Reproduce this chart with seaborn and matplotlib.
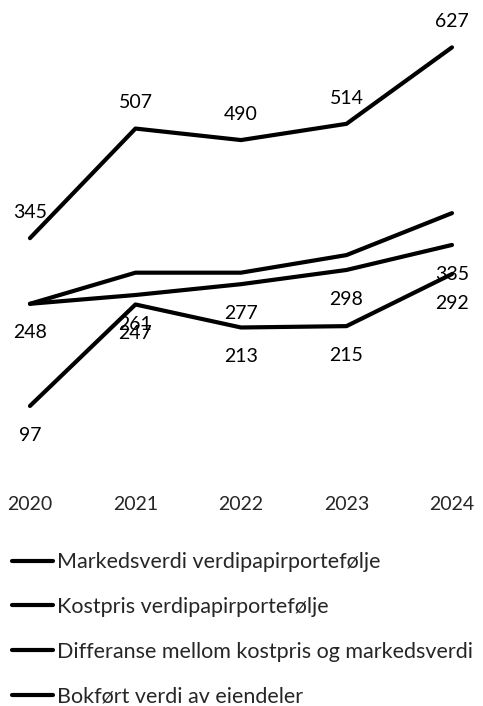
import matplotlib
matplotlib.use("Agg")
import matplotlib.pyplot as plt
import pandas as pd
import seaborn as sns

sns.set_theme(style="white")
plt.rcParams["font.family"] = ["Lato", "DejaVu Sans"]

years = [2020, 2021, 2022, 2023, 2024]
series_names = [
    "Markedsverdi verdipapirportefølje",
    "Kostpris verdipapirportefølje",
    "Differanse mellom kostpris og markedsverdi",
    "Bokført verdi av eiendeler",
]
markedsverdi = [345, 507, 490, 514, 627]
kostpris = [248, 261, 277, 298, 335]
differanse = [97, 247, 213, 215, 292]
bokfort = [248, 294, 294, 320, 382]

values = [markedsverdi, kostpris, differanse, bokfort]
# which series get data labels, and how far above (+) or below (-) in points
label_offset = {series_names[0]: 18.5, series_names[1]: -21, series_names[2]: -21}

df = pd.DataFrame({
    "year": years * len(series_names),
    "value": [v for vals in values for v in vals],
    "series": [name for name in series_names for _ in years],
})

fig = plt.figure(figsize=(4.83, 7.06), dpi=100)
ax = fig.add_axes([0, 0.332, 1, 0.668])

sns.lineplot(data=df, x="year", y="value", hue="series", hue_order=series_names,
             palette=["black"] * 4, linewidth=3, ax=ax, legend=False, sort=False)

for name, vals in zip(series_names, values):
    off = label_offset.get(name)
    if off is None:
        continue
    for yr, v in zip(years, vals):
        ax.annotate(str(v), (yr, v), xytext=(0, off), textcoords="offset points",
                    ha="center", va="center", fontsize=14, color="black")

ax.set_xlim(2019.716, 2024.294)
ax.set_ylim(0, 697)
ax.set_xticks(years)
ax.set_xticklabels([str(y) for y in years], fontsize=14)
ax.tick_params(axis="x", length=0, pad=17.5)
ax.set_yticks([])
ax.set_xlabel("")
ax.set_ylabel("")
for s in ax.spines.values():
    s.set_visible(False)

handles = [plt.Line2D([], [], color="black", linewidth=3) for _ in series_names]
fig.legend(handles, series_names, loc="upper left", bbox_to_anchor=(0.025, 0.218),
           frameon=False, fontsize=15.5, handlelength=1.9, handletextpad=0.2,
           labelspacing=1.15, borderpad=0, borderaxespad=0)

fig.savefig("out.png", dpi=100)
